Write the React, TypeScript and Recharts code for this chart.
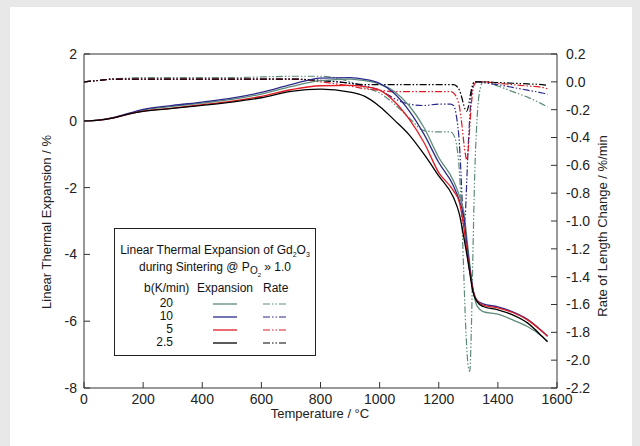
import React from 'react';
import { ComposedChart, Line, XAxis, YAxis, ReferenceLine } from 'recharts';

// ---- Data ----
const xTicks = [0, 200, 400, 600, 800, 1000, 1200, 1400, 1600];
const leftTicks = [-8, -6, -4, -2, 0, 2];
const rightTicks = [0.2, 0, -0.2, -0.4, -0.6, -0.8, -1.0, -1.2, -1.4, -1.6, -1.8, -2.0, -2.2];

const expTemps = [0, 50, 100, 150, 200, 300, 400, 500, 600, 700, 800, 900, 950, 1000, 1050, 1100, 1150, 1200, 1250, 1270, 1285, 1295, 1305, 1315, 1330, 1350, 1400, 1450, 1500, 1550, 1568];
const exp20 = [0, 0.02, 0.09, 0.21, 0.32, 0.43, 0.53, 0.64, 0.8, 1.02, 1.2, 1.25, 1.2, 1.1, 0.88, 0.45, -0.2, -1.1, -1.8, -2.25, -2.75, -3.5, -4.3, -5.0, -5.55, -5.71, -5.79, -5.96, -6.16, -6.46, -6.6];
const exp10 = [0, 0.02, 0.1, 0.22, 0.34, 0.46, 0.56, 0.68, 0.85, 1.08, 1.28, 1.29, 1.24, 1.12, 0.82, 0.3, -0.4, -1.25, -1.95, -2.4, -2.9, -3.7, -4.4, -5.0, -5.38, -5.48, -5.57, -5.72, -5.94, -6.3, -6.45];
const exp5 = [0, 0.02, 0.09, 0.2, 0.29, 0.38, 0.48, 0.59, 0.73, 0.93, 1.05, 1.06, 1.02, 0.92, 0.58, 0.05, -0.65, -1.55, -2.1, -2.45, -3.2, -3.9, -4.5, -5.05, -5.4, -5.52, -5.6, -5.74, -5.96, -6.31, -6.45];
const exp25 = [0, 0.02, 0.09, 0.2, 0.28, 0.37, 0.46, 0.56, 0.69, 0.88, 0.95, 0.86, 0.73, 0.43, 0.02, -0.42, -1.0, -1.65, -2.3, -2.8, -3.5, -4.0, -4.55, -5.1, -5.42, -5.56, -5.66, -5.81, -6.05, -6.46, -6.62];

const rateTemps = [0, 50, 100, 200, 300, 400, 500, 600, 700, 800, 900, 950, 1000, 1050, 1100, 1150, 1200, 1240, 1250, 1260, 1270, 1275, 1280, 1285, 1290, 1295, 1300, 1305, 1310, 1315, 1320, 1330, 1340, 1350, 1400, 1450, 1500, 1550, 1568];
const rate20 = [0, 0.01, 0.02, 0.03, 0.03, 0.03, 0.03, 0.035, 0.04, 0.04, 0.0, -0.04, -0.08, -0.16, -0.26, -0.35, -0.36, -0.36, -0.38, -0.45, -0.65, -0.85, -1.1, -1.4, -1.7, -1.92, -2.05, -2.08, -1.8, -1.3, -0.8, -0.25, -0.05, 0.0, -0.03, -0.07, -0.11, -0.16, -0.18];
const rate10 = [0, 0.01, 0.02, 0.02, 0.02, 0.02, 0.02, 0.02, 0.02, 0.01, -0.01, -0.03, -0.06, -0.12, -0.16, -0.17, -0.16, -0.16, -0.17, -0.25, -0.45, -0.65, -0.88, -1.03, -0.95, -0.7, -0.45, -0.25, -0.1, -0.03, 0.0, 0.0, 0.0, -0.005, -0.02, -0.04, -0.06, -0.08, -0.09];
const rate5 = [0, 0.01, 0.02, 0.02, 0.02, 0.02, 0.02, 0.02, 0.02, 0.0, -0.03, -0.05, -0.06, -0.07, -0.07, -0.07, -0.07, -0.07, -0.08, -0.11, -0.18, -0.25, -0.34, -0.44, -0.52, -0.56, -0.48, -0.32, -0.17, -0.07, -0.02, 0.0, 0.0, 0.0, -0.01, -0.02, -0.03, -0.04, -0.05];
const rate25 = [0, 0.01, 0.02, 0.02, 0.02, 0.02, 0.02, 0.02, 0.02, 0.01, -0.01, -0.02, -0.02, -0.02, -0.02, -0.02, -0.02, -0.02, -0.02, -0.03, -0.06, -0.09, -0.13, -0.17, -0.2, -0.21, -0.18, -0.12, -0.06, -0.02, 0.0, 0.0, 0.0, 0.0, -0.005, -0.01, -0.015, -0.02, -0.025];

const heatingRates = ['20', '10', '5', '2.5'];
const colors = ['#5d8c78', '#2a2a8a', '#e01b24', '#000000'];

const build = (temps: number[], vals: number[]) => temps.map((T, i) => ({ T, v: vals[i] }));
const expSeries = [exp20, exp10, exp5, exp25].map((v) => build(expTemps, v));
const rateSeries = [rate20, rate10, rate5, rate25].map((v) => build(rateTemps, v));

const FONT = '"Liberation Sans", Arial, sans-serif';
const DASH = '7 2 1.5 2 1.5 2';
const tickStyle = { fill: '#222', fontSize: 14, fontFamily: FONT };

export default function App() {
  return (
    <div style={{ position: 'fixed', left: 0, top: 0, width: 640, height: 446, background: '#e8e8e8', fontFamily: FONT, overflow: 'hidden' }}>
      <div style={{ position: 'absolute', left: 10, top: 7, width: 622, height: 439, background: '#fff' }} />
      <div style={{ position: 'absolute', left: 0, top: 0 }}>
        <ComposedChart width={640} height={446} margin={{ top: 54, right: 43, left: 44, bottom: 28 }}>
          <XAxis
            dataKey="T"
            type="number"
            domain={[0, 1600]}
            ticks={xTicks}
            height={30}
            tick={tickStyle}
            tickSize={-6}
            tickMargin={12}
            stroke="#333"
            allowDuplicatedCategory={false}
          />
          <YAxis
            yAxisId="left"
            orientation="left"
            domain={[-8, 2]}
            ticks={leftTicks}
            width={40}
            tick={tickStyle}
            tickSize={-6}
            tickMargin={13}
            stroke="#333"
            interval={0}
          />
          <YAxis
            yAxisId="right"
            orientation="right"
            domain={[-2.2, 0.2]}
            ticks={rightTicks}
            width={40}
            tick={{ ...tickStyle, textAnchor: 'start' }}
            tickSize={-6}
            tickMargin={15}
            stroke="#333"
            interval={0}
            tickFormatter={(v: number) => (Math.abs(v) < 1e-9 ? '0.0' : v.toFixed(1))}
          />
          <ReferenceLine yAxisId="left" y={2} stroke="#333" />
          {rateSeries.map((d, i) => (
            <Line
              key={'r' + i}
              yAxisId="right"
              data={d}
              dataKey="v"
              type="monotone"
              stroke={colors[i]}
              strokeWidth={1.2}
              strokeDasharray={DASH}
              dot={false}
              isAnimationActive={false}
            />
          ))}
          {expSeries.map((d, i) => (
            <Line
              key={'e' + i}
              yAxisId="left"
              data={d}
              dataKey="v"
              type="monotone"
              stroke={colors[i]}
              strokeWidth={1.3}
              dot={false}
              isAnimationActive={false}
            />
          ))}
        </ComposedChart>
      </div>

      {/* Axis titles */}
      <div style={{ position: 'absolute', left: 220, width: 200, top: 406, textAlign: 'center', fontSize: 13, color: '#222' }}>
        Temperature / °C
      </div>
      <div style={{ position: 'absolute', left: 47, top: 222, width: 0, height: 0 }}>
        <div style={{ position: 'absolute', left: -150, top: -9, width: 300, textAlign: 'center', fontSize: 13, color: '#222', transform: 'rotate(-90deg)', lineHeight: '18px' }}>
          Linear Thermal Expansion / %
        </div>
      </div>
      <div style={{ position: 'absolute', left: 603, top: 226, width: 0, height: 0 }}>
        <div style={{ position: 'absolute', left: -150, top: -9, width: 300, textAlign: 'center', fontSize: 13, color: '#222', transform: 'rotate(-90deg)', lineHeight: '18px' }}>
          Rate of Length Change / %/min
        </div>
      </div>

      {/* Legend box */}
      <div style={{ position: 'absolute', left: 114, top: 228, width: 200, height: 126, border: '1px solid #222', background: '#fff', fontSize: 12, color: '#111' }}>
        <div style={{ position: 'absolute', left: 0, width: 200, top: 14, textAlign: 'center', lineHeight: '15px' }}>
          Linear Thermal Expansion of Gd<sub style={{ fontSize: 7 }}>2</sub>O<sub style={{ fontSize: 7 }}>3</sub>
        </div>
        <div style={{ position: 'absolute', left: 0, width: 200, top: 31, textAlign: 'center', lineHeight: '15px' }}>
          during Sintering @ P<sub style={{ fontSize: 10 }}>O<sub style={{ fontSize: 6 }}>2</sub></sub> » 1.0
        </div>
        <div style={{ position: 'absolute', left: 29, top: 52, lineHeight: '15px' }}>b(K/min)</div>
        <div style={{ position: 'absolute', left: 82, top: 52, lineHeight: '15px' }}>Expansion</div>
        <div style={{ position: 'absolute', left: 148, top: 52, lineHeight: '15px' }}>Rate</div>
        {heatingRates.map((r, i) => (
          <React.Fragment key={r}>
            <div style={{ position: 'absolute', left: 20, width: 38, top: 68 + i * 13, textAlign: 'right', lineHeight: '13px' }}>{r}</div>
            <svg style={{ position: 'absolute', left: 98, top: 68 + i * 13 }} width={26} height={13}>
              <line x1={0} y1={7} x2={24} y2={7} stroke={colors[i]} strokeWidth={1.3} />
            </svg>
            <svg style={{ position: 'absolute', left: 148, top: 68 + i * 13 }} width={26} height={13}>
              <line x1={0} y1={7} x2={24} y2={7} stroke={colors[i]} strokeWidth={1.2} strokeDasharray={DASH} />
            </svg>
          </React.Fragment>
        ))}
      </div>
    </div>
  );
}
